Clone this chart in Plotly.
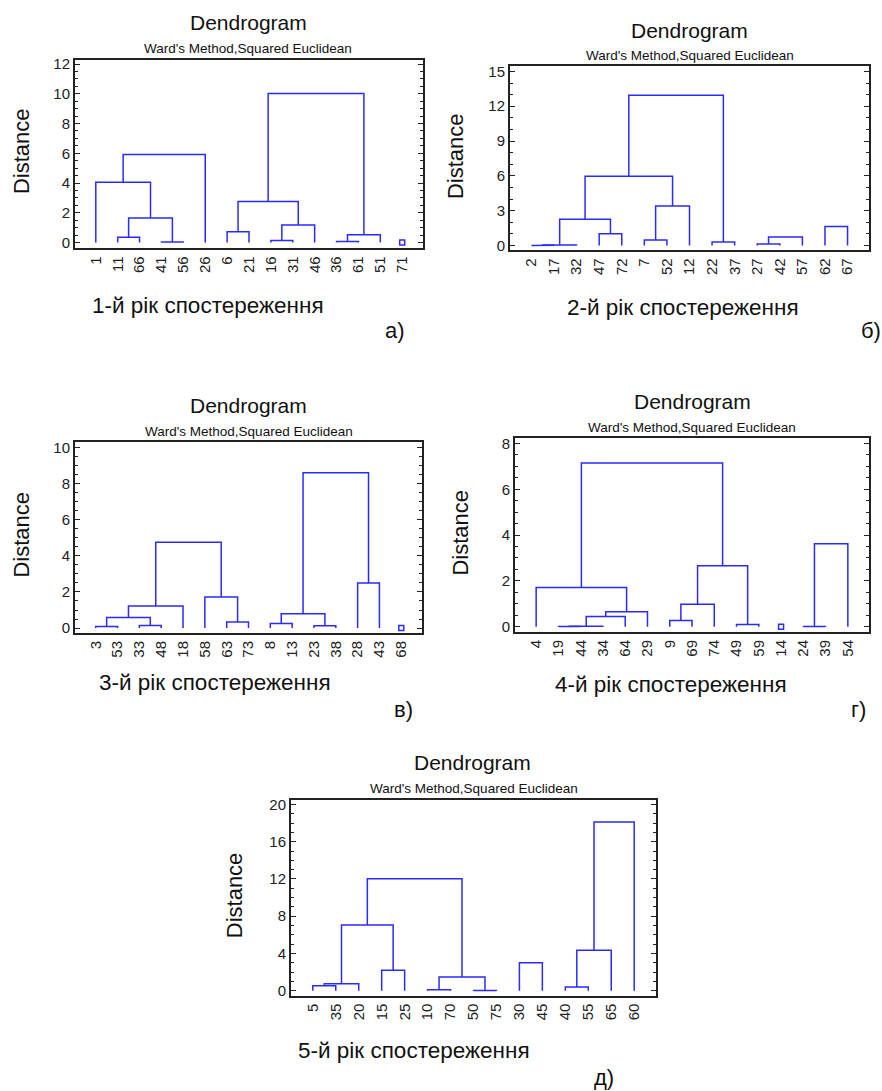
import plotly.graph_objects as go

W, H = 882, 1091

# ---------------- data ----------------
# leaves in display order; merges: [child_a, child_b, height]; child index < 15 -> leaf, >= 15 -> earlier merge
leaves_a = ["1", "11", "66", "41", "56", "26", "6", "21", "16", "31", "46", "36", "61", "51", "71"]
merges_a = [[1, 2, 0.35], [3, 4, 0.03], [15, 16, 1.65], [0, 17, 4.05], [18, 5, 5.92],
            [6, 7, 0.72], [8, 9, 0.13], [21, 10, 1.17], [20, 22, 2.75],
            [11, 12, 0.07], [24, 13, 0.52], [23, 25, 10.02]]
single_a = [14]

leaves_b = ["2", "17", "32", "47", "72", "7", "52", "12", "22", "37", "27", "42", "57", "62", "67"]
merges_b = [[0, 1, 0.01], [15, 2, 0.04], [3, 4, 1.0], [16, 17, 2.25], [5, 6, 0.46],
            [19, 7, 3.39], [18, 20, 5.97], [8, 9, 0.29], [21, 22, 12.94],
            [10, 11, 0.12], [24, 12, 0.72], [13, 14, 1.64]]
single_b = []

leaves_c = ["3", "53", "33", "48", "18", "58", "63", "73", "8", "13", "23", "38", "28", "43", "68"]
merges_c = [[0, 1, 0.09], [2, 3, 0.14], [15, 16, 0.58], [17, 4, 1.22], [6, 7, 0.33],
            [5, 19, 1.72], [18, 20, 4.75], [8, 9, 0.25], [10, 11, 0.13], [22, 23, 0.80],
            [12, 13, 2.5], [24, 25, 8.61]]
single_c = [14]

leaves_d = ["4", "19", "44", "34", "64", "29", "9", "69", "74", "49", "59", "14", "24", "39", "54"]
merges_d = [[1, 2, 0.01], [15, 3, 0.02], [16, 4, 0.45], [17, 5, 0.65], [0, 18, 1.71],
            [6, 7, 0.27], [20, 8, 0.98], [9, 10, 0.10], [21, 22, 2.66], [19, 23, 7.15],
            [12, 13, 0.01], [25, 14, 3.62]]
single_d = [11]

leaves_e = ["5", "35", "20", "15", "25", "10", "70", "50", "75", "30", "45", "40", "55", "65", "60"]
merges_e = [[0, 1, 0.53], [15, 2, 0.75], [3, 4, 2.18], [16, 17, 7.06], [5, 6, 0.11],
            [7, 8, 0.02], [19, 20, 1.47], [18, 21, 12.02], [9, 10, 3.0],
            [11, 12, 0.4], [24, 13, 4.35], [25, 14, 18.12]]
single_e = []

year_labels = ["1-й рік спостереження", "2-й рік спостереження", "3-й рік спостереження",
               "4-й рік спостереження", "5-й рік спостереження"]
panel_letters = ["а)", "б)", "в)", "г)", "д)"]
y_dticks = [2, 3, 2, 2, 4]
y_minor = [0.5, 1, 0.5, 0.5, 1]
y_max = [12.3, 15.5, 10.3, 8.23, 20.5]
y_min = [-0.4, -0.43, -0.27, -0.23, -0.53]

# ---------------- layout geometry (pixels) ----------------
frames = [  # left, right, top, bottom
    (75, 423, 56, 246),
    (510, 869, 62, 248),
    (75, 422, 441, 633),
    (515, 869, 437, 632),
    (291, 656, 801, 998),
]
title_pos = [(248, 19), (689, 27), (248, 404), (692, 400), (473, 763)]
sub_pos = [(248, 45), (690, 52), (249, 430), (692, 426), (474, 790)]
dist_pos = [(21, 148), (455, 153), (22, 534), (461, 532), (234, 897)]
year_pos = [(90, 303), (565, 305), (97, 683), (553, 685), (296, 1053)]
letter_pos = [(383, 329), (859, 329), (392, 710), (849, 710), (592, 1080)]

BLUE = "#2b2bff"
DARK = "#222222"
FONT = "Arial, Liberation Sans, sans-serif"

panels = [(leaves_a, merges_a, single_a), (leaves_b, merges_b, single_b),
          (leaves_c, merges_c, single_c), (leaves_d, merges_d, single_d),
          (leaves_e, merges_e, single_e)]

fig = go.Figure()
layout = dict(width=W, height=H, margin=dict(l=0, r=0, t=0, b=0),
              paper_bgcolor="white", plot_bgcolor="white", showlegend=False,
              font=dict(family=FONT, color=DARK))
annotations = []


def px_x(v):
    return v / W


def px_y(v):
    return 1 - v / H


for i, (leaves, merges, singles) in enumerate(panels):
    n = len(leaves)
    pos = {k: k + 1.0 for k in range(n)}
    hgt = {k: 0.0 for k in range(n)}
    xs, ys = [], []
    for m, (a, b, h) in enumerate(merges):
        xa, xb = pos[a], pos[b]
        xs += [xa, xa, xb, xb, None]
        ys += [hgt[a], h, h, hgt[b], None]
        pos[n + m] = (xa + xb) / 2
        hgt[n + m] = h
    sfx = "" if i == 0 else str(i + 1)
    fig.add_trace(go.Scatter(x=xs, y=ys, mode="lines", line=dict(color=BLUE, width=1.5),
                             xaxis="x" + sfx, yaxis="y" + sfx, hoverinfo="skip"))
    if singles:
        fig.add_trace(go.Scatter(x=[pos[s] for s in singles], y=[0.0] * len(singles), mode="markers",
                                 marker=dict(symbol="square-open", size=5, color=BLUE,
                                             line=dict(color=BLUE, width=1.5)),
                                 xaxis="x" + sfx, yaxis="y" + sfx, hoverinfo="skip"))
    l, r, t, b = frames[i]
    layout["xaxis" + sfx] = dict(
        domain=[px_x(l), px_x(r)], anchor="y" + sfx, range=[0.05, 15.95],
        tickvals=list(range(1, n + 1)), ticktext=leaves, tickangle=-90,
        tickfont=dict(size=15, family=FONT, color=DARK),
        showline=True, linecolor=DARK, linewidth=2, mirror=True,
        ticks="", showgrid=False, zeroline=False)
    layout["yaxis" + sfx] = dict(
        domain=[px_y(b), px_y(t)], anchor="x" + sfx, range=[y_min[i], y_max[i]],
        tick0=0, dtick=y_dticks[i], ticks="inside", ticklen=5, tickwidth=1, tickcolor=DARK,
        minor=dict(dtick=y_minor[i], ticks="inside", ticklen=3, tickwidth=1, tickcolor=DARK),
        tickfont=dict(size=15, family=FONT, color=DARK),
        showline=True, linecolor=DARK, linewidth=2, mirror="ticks",
        showgrid=False, zeroline=False)

    tx, ty = title_pos[i]
    annotations.append(dict(text="Dendrogram", x=px_x(tx), y=px_y(ty), xref="paper", yref="paper",
                            showarrow=False, xanchor="center", yanchor="middle",
                            font=dict(size=21, family=FONT, color="#111")))
    sx, sy = sub_pos[i]
    annotations.append(dict(text="Ward's Method,Squared Euclidean", x=px_x(sx), y=px_y(sy),
                            xref="paper", yref="paper", showarrow=False,
                            xanchor="center", yanchor="middle",
                            font=dict(size=13.5, family=FONT, color="#111")))
    dx, dy = dist_pos[i]
    annotations.append(dict(text="Distance", x=px_x(dx), y=px_y(dy), xref="paper", yref="paper",
                            showarrow=False, xanchor="center", yanchor="middle", textangle=-90,
                            font=dict(size=22, family=FONT, color="#111")))
    yx, yy = year_pos[i]
    annotations.append(dict(text=year_labels[i], x=px_x(yx), y=px_y(yy), xref="paper", yref="paper",
                            showarrow=False, xanchor="left", yanchor="middle",
                            font=dict(size=22.5, family=FONT, color="#111")))
    lx, ly = letter_pos[i]
    annotations.append(dict(text=panel_letters[i], x=px_x(lx), y=px_y(ly), xref="paper", yref="paper",
                            showarrow=False, xanchor="left", yanchor="middle",
                            font=dict(size=22, family=FONT, color="#111")))

layout["annotations"] = annotations
fig.update_layout(**layout)
fig.write_html("out.html")
